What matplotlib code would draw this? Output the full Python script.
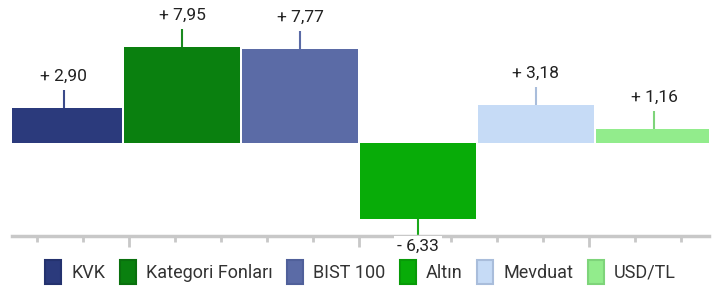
import numpy as np
import matplotlib.pyplot as plt
from matplotlib.patches import Patch

plt.rcParams['font.family'] = ['Roboto', 'DejaVu Sans']

# Data
categories = ['KVK', 'Kategori Fonları', 'BIST 100', 'Altın', 'Mevduat', 'USD/TL']
values = [2.90, 7.95, 7.77, -6.33, 3.18, 1.16]
labels = ['+ 2,90', '+ 7,95', '+ 7,77', '- 6,33', '+ 3,18', '+ 1,16']
colors = ['#2B3A7C', '#0A800F', '#5B6BA6', '#08AC08', '#C6DBF6', '#92EC8C']
line_colors = ['#3B4B8A', '#1A8A1F', '#5B6BA6', '#1AA81A', '#A9BDDB', '#7ED47A']
edge_colors = ['#24326E', '#0A700E', '#50609A', '#089A08', '#A9BDDB', '#7ED47A']

fig = plt.figure(figsize=(7.28, 2.90), dpi=100)
ax = fig.add_axes([12 / 728, 54 / 290, 697 / 728, 236 / 290])

x = np.arange(len(values))
ax.bar(x, values, width=0.983, color=colors)
ax.set_xlim(-0.44, 5.466)
ax.set_ylim(-7.7, 11.85)

# leader lines and value labels
lead = 1.5
for xi, v, lab, lc in zip(x, values, labels, line_colors):
    if v >= 0:
        ax.vlines(xi, v, v + lead, color=lc, lw=1.5)
        ax.text(xi, v + lead + 0.5, lab, ha='center', va='bottom', fontsize=12.5, color='#222222')
    else:
        ax.vlines(xi, v, -7.7, color=lc, lw=1.5, clip_on=False)
        ax.text(xi, -7.95, lab, ha='center', va='top', fontsize=12.5, color='#222222', clip_on=False,
                bbox=dict(facecolor='white', edgecolor='none', pad=2))

# axis styling
for s in ['top', 'left', 'right']:
    ax.spines[s].set_visible(False)
ax.spines['bottom'].set_color('#C8C8C8')
ax.spines['bottom'].set_linewidth(2.5)
ax.set_yticks([])
minor = -0.229 + 0.39 * np.arange(15)
major = minor[[2, 7, 12]]
ax.set_xticks(major)
ax.set_xticks(minor, minor=True)
ax.set_xticklabels([])
ax.tick_params(axis='x', which='major', length=8, width=2, color='#C8C8C8')
ax.tick_params(axis='x', which='minor', length=4, width=2, color='#C8C8C8')

handles = [Patch(facecolor=c, edgecolor=e, linewidth=1.5) for c, e in zip(colors, edge_colors)]
fig.legend(handles, categories, loc='center', bbox_to_anchor=(0.495, 18 / 290), ncol=6,
           frameon=False, fontsize=13, handlelength=0.9, handleheight=1.6,
           handletextpad=0.55, columnspacing=0.8, labelcolor='#333333')

fig.savefig('out.png', dpi=100)
